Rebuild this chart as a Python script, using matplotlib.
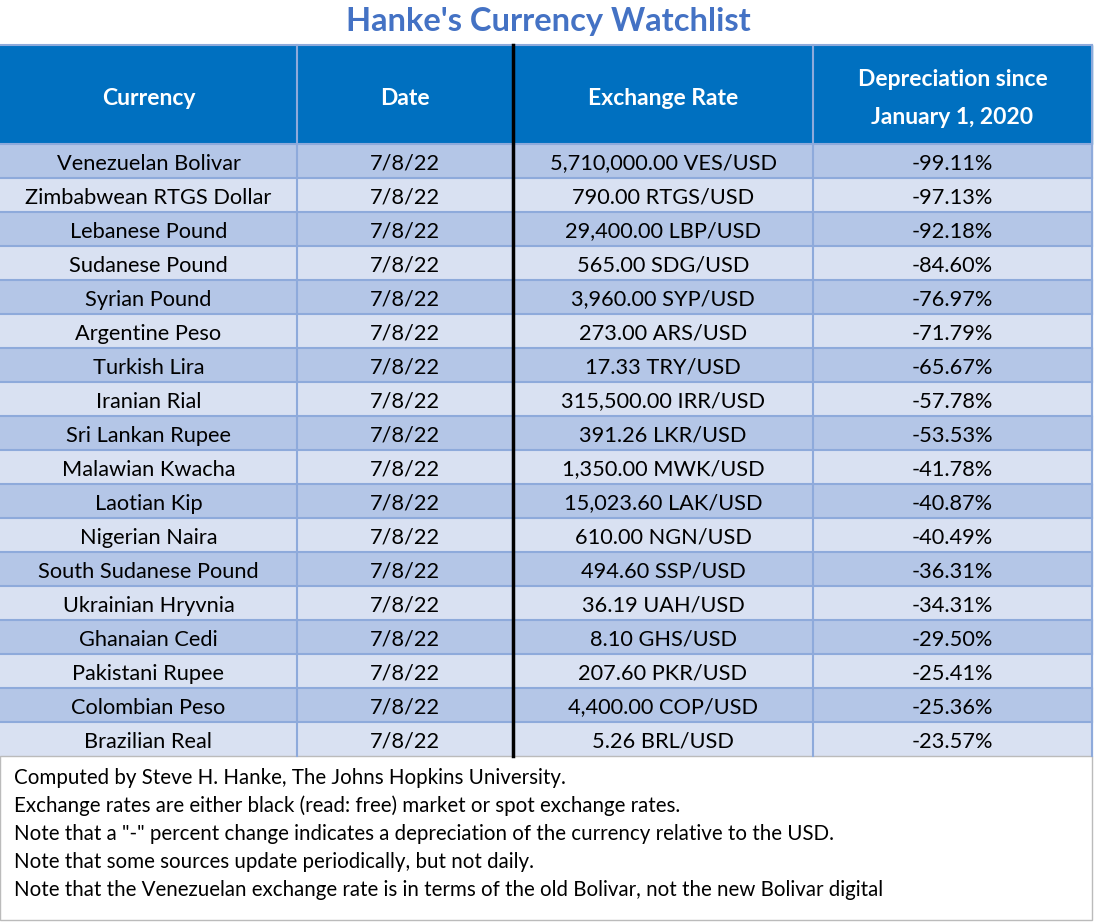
import matplotlib
matplotlib.use("Agg")
import matplotlib.pyplot as plt
from matplotlib.patches import Rectangle

title = "Hanke's Currency Watchlist"
headers = ["Currency", "Date", "Exchange Rate", "Depreciation since\nJanuary 1, 2020"]
currencies = ["Venezuelan Bolivar", "Zimbabwean RTGS Dollar", "Lebanese Pound", "Sudanese Pound",
              "Syrian Pound", "Argentine Peso", "Turkish Lira", "Iranian Rial", "Sri Lankan Rupee",
              "Malawian Kwacha", "Laotian Kip", "Nigerian Naira", "South Sudanese Pound",
              "Ukrainian Hryvnia", "Ghanaian Cedi", "Pakistani Rupee", "Colombian Peso", "Brazilian Real"]
dates = ["7/8/22"] * 18
rates = ["5,710,000.00 VES/USD", "790.00 RTGS/USD", "29,400.00 LBP/USD", "565.00 SDG/USD",
         "3,960.00 SYP/USD", "273.00 ARS/USD", "17.33 TRY/USD", "315,500.00 IRR/USD",
         "391.26 LKR/USD", "1,350.00 MWK/USD", "15,023.60 LAK/USD", "610.00 NGN/USD",
         "494.60 SSP/USD", "36.19 UAH/USD", "8.10 GHS/USD", "207.60 PKR/USD",
         "4,400.00 COP/USD", "5.26 BRL/USD"]
depreciation = [-99.11, -97.13, -92.18, -84.60, -76.97, -71.79, -65.67, -57.78, -53.53,
                -41.78, -40.87, -40.49, -36.31, -34.31, -29.50, -25.41, -25.36, -23.57]
notes = ["Computed by Steve H. Hanke, The Johns Hopkins University.",
         "Exchange rates are either black (read: free) market or spot exchange rates.",
         "Note that a \"-\" percent change indicates a depreciation of the currency relative to the USD.",
         "Note that some sources update periodically, but not daily.",
         "Note that the Venezuelan exchange rate is in terms of the old Bolivar, not the new Bolivar digital"]

plt.rcParams['font.family'] = ['Lato', 'DejaVu Sans']
W, H = 1096, 924
fig = plt.figure(figsize=(W / 100, H / 100), dpi=100)
ax = fig.add_axes([0, 0, 1, 1])
ax.set_xlim(0, W)
ax.set_ylim(H, 0)
ax.axis("off")

cols = [0, 297, 513, 813, 1092]
head_top, head_bot = 45, 144
rh = 34
grid = "#8eaadb"

ax.text(548, 22, title, ha="center", va="center", fontsize=23.5, fontweight="bold", color="#4472c4")
ax.add_patch(Rectangle((0, head_top), cols[-1], head_bot - head_top, color="#0070c0", zorder=1))
for i, h in enumerate(headers):
    ax.text((cols[i] + cols[i + 1]) / 2, (head_top + head_bot) / 2 + 4, h, ha="center", va="center",
            fontsize=16.5, fontweight="bold", color="white", linespacing=2.0, zorder=3)

rows = list(zip(currencies, dates, rates, [f"{d:.2f}%" for d in depreciation]))
for r, row in enumerate(rows):
    y0 = head_bot + r * rh
    ax.add_patch(Rectangle((0, y0), cols[-1], rh, color="#b4c6e7" if r % 2 == 0 else "#d9e1f2", zorder=1))
    for i, t in enumerate(row):
        ax.text((cols[i] + cols[i + 1]) / 2, y0 + rh / 2 + 2.5, t, ha="center", va="center",
                fontsize=15.7, color="black", zorder=3)
    ax.plot([0, cols[-1]], [y0, y0], color=grid, lw=1.5, zorder=2)
bottom = head_bot + len(rows) * rh
ax.plot([0, cols[-1]], [head_top, head_top], color=grid, lw=1.5, zorder=2)
for x in cols[1:]:
    ax.plot([x, x], [head_top, bottom], color=grid, lw=1.5, zorder=2)
ax.plot([513, 513], [head_top, bottom], color="black", lw=2.5, zorder=4)

ax.add_patch(Rectangle((0, bottom), cols[-1], 920 - bottom, facecolor="white", edgecolor="#bbbbbb", lw=1, zorder=1))
for k, n in enumerate(notes):
    ax.text(14, bottom + 22 + k * 28, n, ha="left", va="center", fontsize=14.8, color="black", zorder=3)

fig.savefig("out.png", dpi=100)
